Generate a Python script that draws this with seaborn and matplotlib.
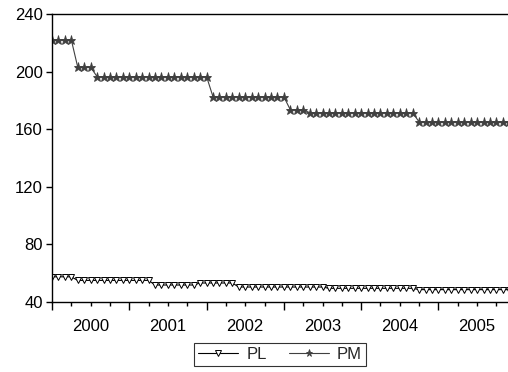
import numpy as np
import pandas as pd
import matplotlib
matplotlib.use("Agg")
import matplotlib.pyplot as plt
import seaborn as sns

# monthly observations, 2000M01 onward
months = pd.period_range("2000-01", periods=72, freq="M").astype(str)
years = ["2000", "2001", "2002", "2003", "2004", "2005"]

pl = [57.5, 57.5, 57.5, 57.5,
      55.0, 55.0, 55.0, 55.0, 55.0, 55.0, 55.0, 55.0, 55.0, 55.0, 55.0, 55.0,
      51.8, 51.8, 51.8, 51.8, 51.8, 51.8, 51.8,
      53.2, 53.2, 53.2, 53.2, 53.2, 53.2,
      50.4, 50.4, 50.4, 50.4, 50.4, 50.4, 50.4, 50.4, 50.4, 50.4, 50.4, 50.4, 50.4, 50.4,
      49.5, 49.5, 49.5, 49.5, 49.5, 49.5, 49.5, 49.5, 49.5, 49.5, 49.5, 49.5, 49.5, 49.5,
      48.6, 48.6, 48.6, 48.6, 48.6, 48.6, 48.6, 48.6, 48.6, 48.6, 48.6, 48.6, 48.6, 48.6, 48.6]

pm = [222.0, 222.0, 222.0, 222.0,
      203.0, 203.0, 203.0,
      196.5, 196.5, 196.5, 196.5, 196.5, 196.5, 196.5, 196.5, 196.5,
      196.5, 196.5, 196.5, 196.5, 196.5, 196.5, 196.5, 196.5, 196.5,
      182.5, 182.5, 182.5, 182.5, 182.5, 182.5, 182.5, 182.5, 182.5, 182.5, 182.5, 182.5,
      173.5, 173.5, 173.5,
      171.5, 171.5, 171.5, 171.5, 171.5, 171.5, 171.5, 171.5, 171.5,
      171.5, 171.5, 171.5, 171.5, 171.5, 171.5, 171.5, 171.5,
      165.0, 165.0, 165.0, 165.0, 165.0, 165.0, 165.0, 165.0, 165.0, 165.0,
      165.0, 165.0, 165.0, 165.0, 165.0]

df = pd.DataFrame({"t": np.arange(len(months)), "PL": pl, "PM": pm})

sns.set_style("ticks")
plt.rcParams["font.family"] = ["Liberation Sans", "DejaVu Sans"]
plt.rcParams["font.size"] = 12

fig = plt.figure(figsize=(5.08, 3.72), dpi=100)
ax = fig.add_axes([52 / 508, 1 - 302 / 372, 1 - 52 / 508, (302 - 14) / 372])

sns.lineplot(data=df, x="t", y="PL", ax=ax, color="black", lw=0.8,
             marker="v", markersize=5, markerfacecolor="white",
             markeredgecolor="black", markeredgewidth=0.7, label="PL")
sns.lineplot(data=df, x="t", y="PM", ax=ax, color="#404040", lw=0.8,
             marker="*", markersize=6.5, markerfacecolor="#404040",
             markeredgecolor="#404040", markeredgewidth=0.6, label="PM")

ax.set_xlim(0, 70.8)
ax.set_ylim(40, 240)
ax.set_yticks([40, 80, 120, 160, 200, 240])
ax.set_xlabel("")
ax.set_ylabel("")

# year boundaries (long ticks) and quarters (short ticks)
ax.set_xticks(np.arange(0, 72, 12))
ax.set_xticklabels([])
ax.set_xticks(np.arange(0, 72, 3), minor=True)
ax.tick_params(axis="x", which="major", length=5.5, width=1, color="black")
ax.tick_params(axis="x", which="minor", length=3, width=1, color="black")
ax.tick_params(axis="y", length=4.5, width=1, color="black", pad=2, labelcolor="black")

sec = ax.secondary_xaxis("bottom")
sec.set_xticks(np.arange(6, 72, 12), labels=years)
sec.tick_params(length=0, pad=12.5, labelcolor="black")
sec.spines["bottom"].set_visible(False)

for s in ["left", "top", "bottom"]:
    ax.spines[s].set_color("black")
    ax.spines[s].set_linewidth(1)
ax.spines["right"].set_visible(False)

leg = ax.legend(loc="upper center", bbox_to_anchor=(280 / 508, 1 - 343 / 372),
                bbox_transform=fig.transFigure, ncol=2, frameon=True,
                fancybox=False, edgecolor="black", borderaxespad=0,
                handlelength=2.4, columnspacing=1.3, borderpad=0.25,
                handletextpad=0.5, fontsize=12, markerscale=0.8)
leg.get_frame().set_linewidth(0.8)

fig.savefig("out.png", dpi=100)
